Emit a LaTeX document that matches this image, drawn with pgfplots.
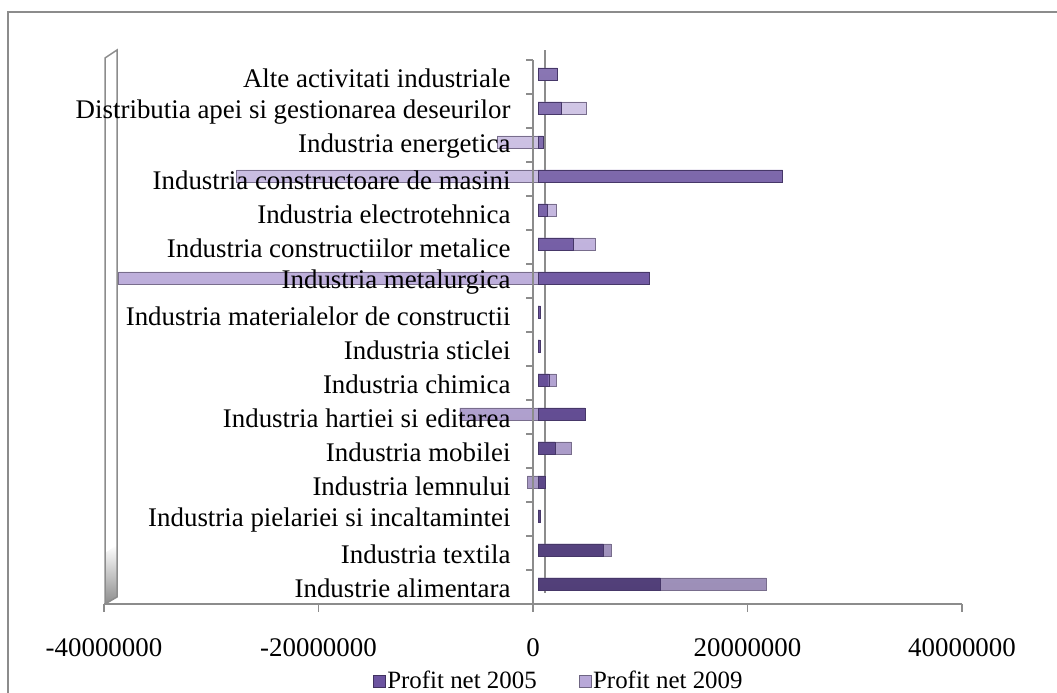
\documentclass[border=0pt]{standalone}
\usepackage{fontspec}
\setmainfont{Liberation Serif}
\usepackage{pgfplots}
\pgfplotsset{compat=1.18}
\usepackage{pgfplotstable}

\definecolor{c05}{RGB}{108,84,160}
\definecolor{c09}{RGB}{184,168,216}
\definecolor{frame}{RGB}{140,140,140}

% profit net, lei; idx 0 = Industrie alimentara (bottom)
\pgfplotstableread{
idx p05 p09
0  11400000  9900000
1  6100000   700000
2  250000    0
3  650000   -1000000
4  1600000   1500000
5  4400000  -7300000
6  1000000   700000
7  200000    0
8  250000    0
9  10400000 -39100000
10 3300000   2000000
11 850000    850000
12 22800000 -28100000
13 500000   -3800000
14 2200000   2300000
15 1800000   0
}\profit

\begin{document}
\begin{tikzpicture}[x=1bp,y=1bp]
\begin{pgfinterruptboundingbox}
\draw[frame, line width=2bp] (8,681) rectangle (1080,-30);
% 3D walls
\draw[frame, line width=1.2bp] (545,100) -- (545,643);
\shade[top color=white, bottom color=frame] (105,89) -- (105,140) -- (117,148) -- (117,96) -- cycle;
\draw[frame, line width=1.5bp] (105,89) -- (105,635) -- (117,643) -- (117,96) -- cycle;
\begin{axis}[
  at={(104bp,89bp)}, anchor=south west,
  width=858bp, height=544bp, scale only axis,
  axis on top,
  xmin=-40000000, xmax=40000000, ymin=-0.5, ymax=15.5,
  axis x line=bottom, axis y line=middle,
  axis line style={-, draw=frame, line width=1.5bp},
  hide obscured x ticks=false, hide obscured y ticks=false,
  xtick={-40000000,-20000000,0,20000000,40000000},
  scaled x ticks=false,
  xticklabel style={/pgf/number format/fixed, /pgf/number format/1000 sep={},
    /pgf/number format/assume math mode=true,
    font=\fontsize{27}{30}\selectfont, yshift=-23bp},
  ytick={0,...,15},
  yticklabels={Industrie alimentara, Industria textila,
    Industria pielariei si incaltamintei, Industria lemnului,
    Industria mobilei, Industria hartiei si editarea, Industria chimica,
    Industria sticlei, Industria materialelor de constructii,
    Industria metalurgica, Industria constructiilor metalice,
    Industria electrotehnica, Industria constructoare de masini,
    Industria energetica, Distributia apei si gestionarea deseurilor,
    Alte activitati industriale},
  yticklabel style={font=\fontsize{27}{30}\selectfont, xshift=-11bp, yshift=-1bp},
  minor ytick={-0.5,0.5,...,15.5},
  major y tick style={draw=none},
  minor y tick style={draw=frame, line width=1.5bp},
  x tick style={draw=frame, line width=1.5bp},
  major tick length=8bp, minor tick length=7bp,
  tick align=outside,
  xbar, bar width=12bp,
  legend style={at={(0.53,-0.1415)}, anchor=center, legend columns=2,
    draw=none, fill=none, font=\fontsize{25}{28}\selectfont,
    /tikz/every even column/.append style={column sep=40bp}},
  legend image code/.code={\draw[#1] (0bp,-6bp) rectangle (12bp,6bp);},
]
\addlegendimage{fill=c05, draw=c05!60!black}
\addlegendentry{Profit net 2005}
\addlegendimage{fill=c09, draw=c09!60!black}
\addlegendentry{Profit net 2009}
\addplot[forget plot, xbar, bar shift=0pt, draw=c09!65!black, top color=c09!60!white,
  bottom color=c09!85!black, middle color=c09, xshift=5bp, yshift=3bp]
  table[x expr={\thisrow{p09}+(\thisrow{p09}>0)*\thisrow{p05}}, y=idx] {\profit};
\addplot[forget plot, xbar, bar shift=0pt, draw=c05!65!black, top color=c05!80!white,
  bottom color=c05!75!black, middle color=c05, xshift=5bp, yshift=3bp]
  table[x=p05, y=idx] {\profit};
\end{axis}
\end{pgfinterruptboundingbox}
\path (0,0) rectangle (1057,693);
\end{tikzpicture}
\end{document}
